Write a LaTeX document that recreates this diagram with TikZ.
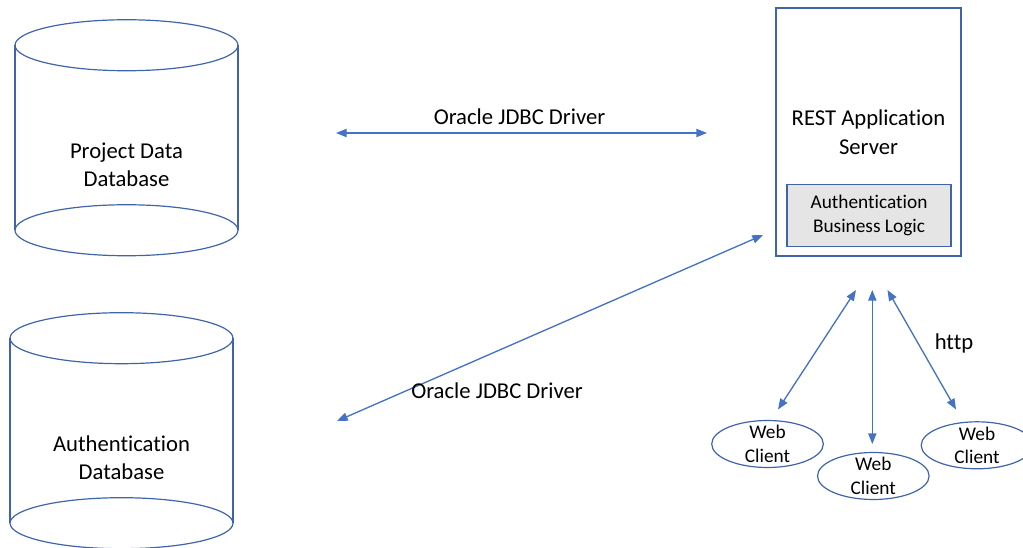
\documentclass[tikz,border=0pt]{standalone}
\usepackage{fontspec}
\setmainfont{Carlito}[Ligatures=NoCommon]
\usepackage{xcolor}
\definecolor{LINECOLOR}{HTML}{4472C4}
\definecolor{FRAMECOLOR}{HTML}{3F64AA}
\colorlet{LOGICCOLOR}{gray!20}
\usepackage{tikz}
\usetikzlibrary{shapes,arrows.meta,positioning}
\tikzset{
  big-text/.style = {
    font=\fontsize{17}{21.5}\selectfont, align=center
  },
  small-text/.style = {
    font=\fontsize{14.5}{17.5}\selectfont, align=center
  },
  db-style/.style = {
    big-text, inner sep=0pt
  },
  db-line/.style = {
    draw=FRAMECOLOR, line width=0.9pt
  },
  server-style/.style = {
    rectangle, draw=FRAMECOLOR, line width=0.9pt, big-text,
    minimum width=138.75pt,
    minimum height=186pt,
    inner sep=0pt
  },
  logic-style/.style = {
    rectangle, draw=FRAMECOLOR, fill=LOGICCOLOR, line width=0.9pt, small-text,
    minimum width=123pt,
    minimum height=46.5pt,
    inner sep=0pt
  },
  client-style/.style = {
    ellipse, draw=FRAMECOLOR, line width=0.9pt, small-text,
    minimum width=83.7pt,
    minimum height=35.25pt,
    inner sep=0pt, inner ysep=-4pt
  },
  label-style/.style = {
    big-text, inner sep=0pt
  },
  every edge/.style = {draw=LINECOLOR, <->, >={Triangle[length=8pt,width=6.2pt]}, line width=1pt}
}
\newcommand\createDatabase[3]{
  \begin{scope}[shift={#2}]
    \draw[db-line] (0,-92.5) ellipse [x radius=111.5, y radius=25.5];
    \draw[db-line] (0,92.5) ellipse [x radius=111.5, y radius=25.5];
    \draw[db-line] (-111.5,-92.5) -- (-111.5,92.5);
    \draw[db-line] (111.5,-92.5) -- (111.5,92.5);
    \node[db-style] (#1) at (0,27) {#3};
  \end{scope}
}

\begin{document}
\begin{tikzpicture}[x=0.75pt,y=-0.75pt]
    \clip (0,0) rectangle (1023,548);

    %%% databases
    \createDatabase{projectDb}{(126.5,137.75)}{Project Data\\Database}
    \createDatabase{authDb}{(121.5,430.7)}{Authentication\\Database}

    %%% application server
    \node[server-style] (restServer) at (868.5,132) {REST Application\\Server};
    \node[logic-style] (authLogic) at (869,215.5) {Authentication\\Business Logic};

    %%% web clients
    \node[client-style] (clientA) at (767.5,444) {Web\\Client};
    \node[client-style] (clientB) at (873.3,476) {Web\\Client};
    \node[client-style] (clientC) at (977,445.3) {Web\\Client};

    %%% arrow ends
    \coordinate (projectEnd) at (336,133);
    \coordinate (serverEndA) at (707,133);
    \coordinate (authEnd) at (337,421);
    \coordinate (serverEndB) at (763,235);
    \coordinate (httpEndA) at (856,290);
    \coordinate (httpEndB) at (872.3,290);
    \coordinate (httpEndC) at (887.5,290);
    \coordinate (clientEndA) at (778,409.5);
    \coordinate (clientEndB) at (872.3,444);
    \coordinate (clientEndC) at (956,409.5);

    %%% arrows
    \path (projectEnd) edge (serverEndA);
    \path (authEnd) edge (serverEndB);
    \path (httpEndA) edge (clientEndA);
    \path (httpEndB) edge (clientEndB);
    \path (httpEndC) edge (clientEndC);

    %%% labels
    \node[label-style] (jdbcLabelA) at (519.5,117) {Oracle JDBC Driver};
    \node[label-style] (jdbcLabelB) at (497,390.5) {Oracle JDBC Driver};
    \node[label-style] (httpLabel) at (954,343) {http};
  \end{tikzpicture}
\end{document}
